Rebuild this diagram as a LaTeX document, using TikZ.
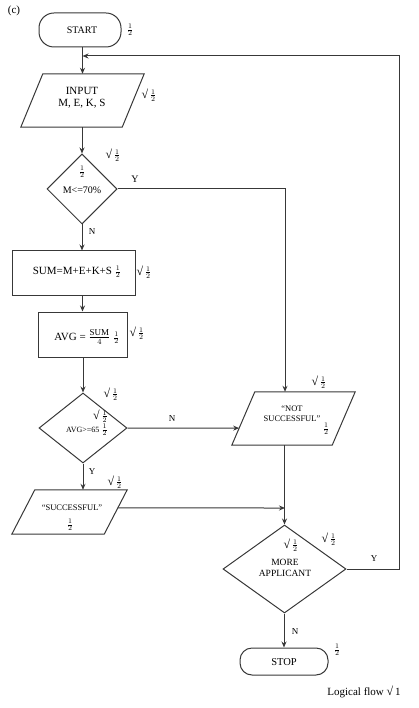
\documentclass[tikz,border=0pt]{standalone}
\usepackage{fontspec}
\setmainfont{Liberation Serif}
\usetikzlibrary{shapes.geometric,arrows.meta,calc}
\newcommand{\myhalf}{{\fontsize{10}{12}\selectfont$\frac{1}{2}$}}
\newcommand{\mytick}{\mbox{\fontsize{12}{12}\selectfont √}\,\myhalf}
\newcommand{\drawpara}[2]{\draw[line] ([xshift=#2]#1.north west) -- (#1.north east) -- ([xshift=-#2]#1.south east) -- (#1.south west) -- cycle;}
\begin{document}
\begin{tikzpicture}[x=1pt,y=-1pt,
  line/.style={draw=black!78, line width=1pt},
  arr/.style={line, -{Stealth[length=6pt,width=5pt]}},
  term/.style={line, rectangle, rounded corners=#1, inner sep=0pt},
  proc/.style={line, rectangle, inner sep=0pt},
  para/.style={rectangle, inner sep=0pt, draw=none},
  dec/.style={line, diamond, inner sep=0pt},
  txt/.style={inner sep=0pt, align=center, font=\fontsize{10}{12}\selectfont},
  chk/.style={inner sep=0pt},
  lbl/.style={inner sep=0pt, font=\fontsize{9}{10}\selectfont}]
\useasboundingbox (0,0) rectangle (418,708);
% shapes
\node[term=15pt, minimum width=82pt, minimum height=34pt] (start) at (80,30) {};
\node[para, minimum width=123pt, minimum height=53pt] (inp) at (82.5,100.5) {};
\drawpara{inp}{22pt}
\node[dec, minimum width=70pt, minimum height=70pt] (d1) at (82,189) {};
\node[proc, minimum width=123pt, minimum height=44pt] (sum) at (73.5,273) {};
\node[proc, minimum width=89pt, minimum height=45pt] (avg) at (82.5,334.5) {};
\node[dec, minimum width=88pt, minimum height=70pt] (d2) at (83,428) {};
\node[para, minimum width=115pt, minimum height=44pt] (succ) at (69.5,512) {};
\drawpara{succ}{23pt}
\node[para, minimum width=123pt, minimum height=53pt] (ns) at (293.5,418.5) {};
\drawpara{ns}{23pt}
\node[dec, minimum width=123pt, minimum height=88pt] (d3) at (284.5,569) {};
\node[term=12pt, minimum width=88pt, minimum height=27pt] (stop) at (284,661.5) {};
% texts
\node[txt, font=\fontsize{11}{12}\selectfont] (ttl) at (14,11) {(c)};
\node[txt] (startt) at (82,30) {START};
\node[chk] (startf) at (130,30) {\myhalf};
\node[txt, font=\fontsize{11}{12}\selectfont] (inpt) at (82,98) {INPUT\\M, E, K, S};
\node[chk] (inpc) at (149,95) {\mytick};
\node[chk] (d1f) at (82,172) {\myhalf};
\node[txt] (d1t) at (82,190) {M<=70\%};
\node[chk] (d1c) at (113,155) {\mytick};
\node[lbl, font=\fontsize{10}{10}\selectfont] (d1y) at (135,179) {Y};
\node[lbl] (d1n) at (92,232) {N};
\node[txt, font=\fontsize{11}{12}\selectfont] (sumt) at (77,272) {SUM=M+E+K+S \myhalf};
\node[chk] (sumc) at (144,272) {\mytick};
\node[txt, font=\fontsize{11}{12}\selectfont] (avgt) at (87,337) {AVG = $\frac{\mbox{\fontsize{9}{9}\selectfont SUM}}{4}$ \myhalf};
\node[chk] (avgc) at (137,333) {\mytick};
\node[chk] (d2c) at (111,394) {\mytick};
\node[chk, anchor=east] (d2c2) at (108,416) {\mytick};
\node[txt, anchor=east, font=\fontsize{8}{10}\selectfont] (d2t) at (108,430) {AVG>=65 \myhalf};
\node[lbl] (d2n) at (172,419) {N};
\node[lbl] (d2y) at (92,472) {Y};
\node[chk] (succc) at (115,482) {\mytick};
\node[txt, font=\fontsize{8.5}{10}\selectfont] (succt) at (72,508) {“SUCCESSFUL”};
\node[chk] (succf) at (70,525) {\myhalf};
\node[chk] (nsc) at (319,382) {\mytick};
\node[txt, font=\fontsize{8.5}{10}\selectfont] (nst) at (292,414) {“NOT\\SUCCESSFUL”};
\node[chk] (nsf) at (326,429) {\myhalf};
\node[chk] (d3c) at (329,539) {\mytick};
\node[chk] (d3c2) at (291,545) {\mytick};
\node[txt, font=\fontsize{9.5}{11}\selectfont] (d3t) at (285,568) {MORE\\APPLICANT};
\node[lbl] (d3y) at (374,559) {Y};
\node[lbl] (d3n) at (295,632) {N};
\node[txt, font=\fontsize{10.5}{12}\selectfont] (stopt) at (284,662) {STOP};
\node[chk] (stopf) at (337,650) {\myhalf};
\node[txt, font=\fontsize{11}{12}\selectfont] (lf) at (364,692) {Logical flow \mbox{\fontsize{12}{12}\selectfont √}\,1};
% helper coordinates
\coordinate (j) at (285,508);
\coordinate (lr) at (399,56);
\coordinate (lm) at (82.5,56);
% connectors
\draw[arr] (inp.north |- start.south) -- (inp.north);
\draw[arr] (d1.north |- inp.south) -- (d1.north);
\draw[arr] (d1.south) -- (d1.south |- sum.north);
\draw[arr] (avg.north |- sum.south) -- (avg.north);
\draw[arr] (d2.north |- avg.south) -- (d2.north);
\draw[arr] (d2.south) -- (d2.south |- succ.north);
\draw[arr] (d1.east) -| (ns.north -| j);
\draw[arr] (d2.east) -- ($(ns.south west)!0.32!([xshift=23pt]ns.north west)$);
\draw[arr] ($([xshift=-23pt]succ.south east)!0.591!(succ.north east)$) -- (j);
\draw[arr] (ns.south -| d3.north) -- (d3.north);
\draw[arr] (stop.north |- d3.south) -- (stop.north);
\draw[arr] (d3.east) -| (lr) -- (lm);
\end{tikzpicture}
\end{document}
